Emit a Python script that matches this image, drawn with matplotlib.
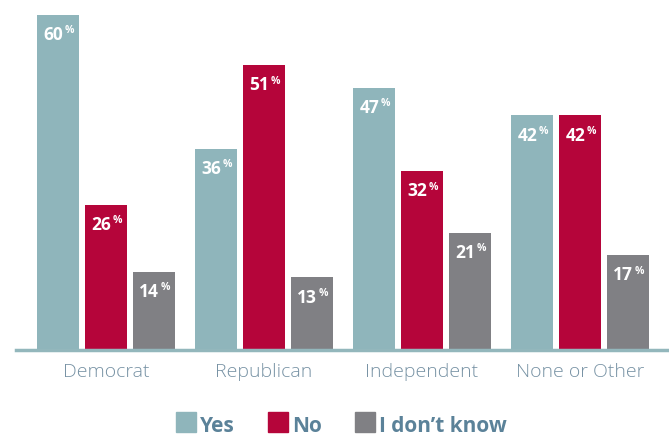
import matplotlib
matplotlib.use("Agg")
from matplotlib import pyplot as plt
from matplotlib.patches import Rectangle
import numpy as np

categories = ["Democrat", "Republican", "Independent", "None or Other"]
series_names = ["Yes", "No", "I don\u2019t know"]
yes_vals = [60, 36, 47, 42]
no_vals = [26, 51, 32, 42]
idk_vals = [14, 13, 21, 17]

colors = ["#8fb5bb", "#b5053a", "#808084"]
axis_col = "#93b7bc"
cat_col = "#7792a4"
leg_col = "#5b8299"

plt.rcParams['font.family'] = ['Open Sans', 'DejaVu Sans']

W, H = 669, 436
fig = plt.figure(figsize=(W / 100, H / 100), dpi=100)
ax = fig.add_axes([16 / W, 86 / H, 1 - 16 / W, 350 / H])

x = np.arange(len(categories))
width = 42 / 158
step = 48 / 158
for i, vals in enumerate([yes_vals, no_vals, idk_vals]):
    pos = x + (i - 1) * step
    ax.bar(pos, vals, width, color=colors[i], zorder=2)
    for p, v in zip(pos, vals):
        ax.annotate(str(v), (p, v), xytext=(-3.5, -8), textcoords="offset points",
                    ha="center", va="top", color="white", fontsize=12.5, fontweight="bold")
        ax.annotate("%", (p, v), xytext=(4.5, -7.5), textcoords="offset points",
                    ha="left", va="top", color="white", fontsize=7.5, fontweight="bold")

ax.set_xlim(-90 / 158, (669 - 106) / 158)
ax.set_ylim(0, 60 * 350 / 335)
ax.axhline(0, color=axis_col, lw=2.5, zorder=3, clip_on=False)
for s in ax.spines.values():
    s.set_visible(False)
ax.set_yticks([])
ax.set_xticks(x)
ax.set_xticklabels(categories, fontsize=14, color=cat_col, fontweight="light")
ax.tick_params(axis="x", length=0, pad=9)

# legend drawn by hand
leg = [(176, series_names[0]), (268, series_names[1]), (355, series_names[2])]
for (px, name), c in zip(leg, colors):
    fig.patches.append(Rectangle((px / W, (H - 432) / H), 20 / W, 20 / H,
                                 transform=fig.transFigure, color=c))
    fig.text((px + 24) / W, (H - 432) / H, name, fontsize=15, fontweight="bold",
             color=leg_col, ha="left", va="baseline")

fig.savefig("out.png", dpi=100)
